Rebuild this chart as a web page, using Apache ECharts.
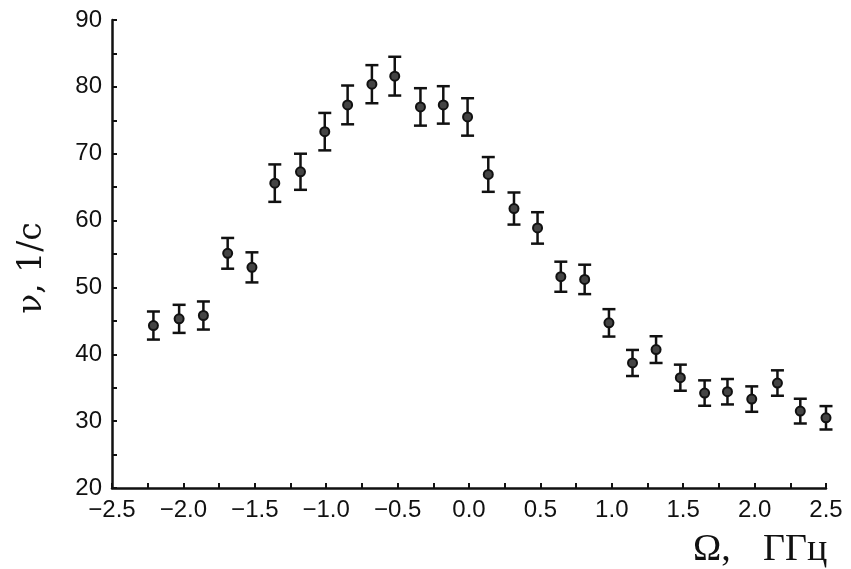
<!DOCTYPE html>
<html><head><meta charset="utf-8">
<script src="https://cdn.jsdelivr.net/npm/echarts@6/dist/echarts.min.js"></script>
<style>html,body{margin:0;padding:0;background:#fff}#c{width:851px;height:569px}</style>
</head><body><div id="c"></div>
<script>
const omega = [-2.21,-2.03,-1.86,-1.69,-1.52,-1.36,-1.18,-1.01,-0.85,-0.68,-0.52,-0.34,-0.18,-0.01,0.135,0.315,0.48,0.643,0.81,0.98,1.145,1.31,1.48,1.65,1.81,1.98,2.16,2.32,2.50];
const nu    = [44.3,45.3,45.8,55.1,53.0,65.6,67.3,73.3,77.3,80.4,81.6,77.0,77.3,75.5,66.9,61.8,58.9,51.6,51.2,44.7,38.7,40.7,36.5,34.2,34.4,33.3,35.7,31.5,30.5];
const err   = [2.1,2.1,2.1,2.3,2.25,2.8,2.7,2.8,2.9,2.85,2.9,2.8,2.8,2.8,2.6,2.4,2.35,2.25,2.2,2.05,1.95,2.0,1.95,1.9,1.9,1.9,1.9,1.85,1.75];
const xTicks = [-2.5,-2.0,-1.5,-1.0,-0.5,0.0,0.5,1.0,1.5,2.0,2.5];
const yTicks = [20,30,40,50,60,70,80,90];
const yLabel = 'ν, 1/с';
const xLabelSym = 'Ω,';
const xLabelUnit = 'ГГц';

const pts = omega.map((x,i)=>[x,nu[i]]);
const bars = omega.map((x,i)=>[x,nu[i]-err[i],nu[i]+err[i]]);
const chart = echarts.init(document.getElementById('c'));
const font = 'Liberation Sans, Arial, sans-serif';
chart.setOption({
  animation:false,
  backgroundColor:'#ffffff',
  grid:{left:112,right:25,top:20,bottom:81},
  xAxis:{type:'value',min:xTicks[0],max:xTicks[xTicks.length-1],interval:0.5,
    axisLine:{onZero:false,lineStyle:{color:'#111',width:2.5}},
    axisTick:{inside:true,length:5,lineStyle:{color:'#111',width:2}},
    minorTick:{show:true,splitNumber:2,length:5,lineStyle:{color:'#111',width:2}},
    splitLine:{show:false},
    axisLabel:{color:'#111',fontSize:24,fontFamily:font,margin:10,
      formatter:v=>(v<0?'−':'')+Math.abs(v).toFixed(1)}},
  yAxis:{type:'value',min:yTicks[0],max:yTicks[yTicks.length-1],interval:10,
    axisLine:{show:true,onZero:false,lineStyle:{color:'#111',width:2.5}},
    axisTick:{show:true,inside:true,length:5,lineStyle:{color:'#111',width:2}},
    minorTick:{show:true,splitNumber:2,length:5,lineStyle:{color:'#111',width:2}},
    splitLine:{show:false},
    axisLabel:{color:'#111',fontSize:24,fontFamily:font,margin:10}},
  graphic:[
    {type:'text',x:32,y:268,rotation:Math.PI/2,
     style:{text:yLabel,fontSize:33,fontFamily:'DejaVu Serif, serif',fill:'#111',textAlign:'center',textVerticalAlign:'middle'}},
    {type:'text',x:693,y:531,
     style:{text:xLabelSym,fontSize:38,fontFamily:'Liberation Serif, serif',fill:'#111'}},
    {type:'text',x:763,y:531,
     style:{text:xLabelUnit,fontSize:38,fontFamily:'Liberation Serif, serif',fill:'#111'}}
  ],
  series:[
    {type:'custom',data:bars,encode:{x:0,y:[1,2]},z:2,
     renderItem:(params,api)=>{
       const lo=api.coord([api.value(0),api.value(1)]);
       const hi=api.coord([api.value(0),api.value(2)]);
       const w=6.5;
       const st={stroke:'#111',lineWidth:2.5};
       return {type:'group',children:[
         {type:'line',shape:{x1:lo[0],y1:lo[1],x2:hi[0],y2:hi[1]},style:st},
         {type:'line',shape:{x1:lo[0]-w,y1:lo[1],x2:lo[0]+w,y2:lo[1]},style:st},
         {type:'line',shape:{x1:hi[0]-w,y1:hi[1],x2:hi[0]+w,y2:hi[1]},style:st}
       ]};
     }},
    {type:'scatter',data:pts,symbol:'circle',symbolSize:9,z:3,
     itemStyle:{color:'#444',borderColor:'#111',borderWidth:2,opacity:1}}
  ]
});
</script></body></html>
